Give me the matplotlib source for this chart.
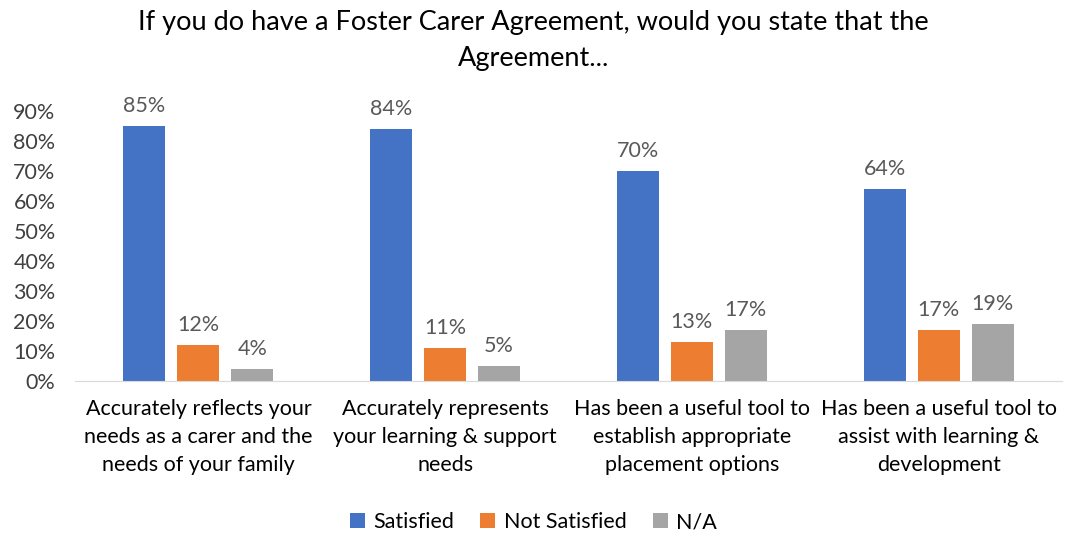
import matplotlib
matplotlib.use('Agg')
import matplotlib.pyplot as plt
import numpy as np

plt.rcParams['font.family'] = ['Lato', 'DejaVu Sans']

# chart data
categories = ['Accurately reflects your\nneeds as a carer and the\nneeds of your family',
              'Accurately represents\nyour learning & support\nneeds',
              'Has been a useful tool to\nestablish appropriate\nplacement options',
              'Has been a useful tool to\nassist with learning &\ndevelopment']
satisfied = [0.85, 0.84, 0.70, 0.64]
not_satisfied = [0.12, 0.11, 0.13, 0.17]
na = [0.04, 0.05, 0.17, 0.19]
series_names = ['Satisfied', 'Not Satisfied', 'N/A']
colors = ['#4472C4', '#ED7D31', '#A5A5A5']
yticks = [0, 0.1, 0.2, 0.3, 0.4, 0.5, 0.6, 0.7, 0.8, 0.9]

text_col = '#404040'

fig = plt.figure(figsize=(10.67, 5.33), dpi=100)
ax = fig.add_axes([0.0703, 0.285, 0.925, 0.507])

x = np.arange(len(categories))
width = 0.17
offsets = [-0.219, 0, 0.219]
for vals, off, col, name in zip([satisfied, not_satisfied, na], offsets, colors, series_names):
    bars = ax.bar(x + off, vals, width=width, color=col, label=name)
    for rect, v in zip(bars, vals):
        ax.annotate(f'{round(v*100)}%', xy=(rect.get_x() + rect.get_width() / 2, v),
                    xytext=(0, 7), textcoords='offset points',
                    ha='center', va='bottom', fontsize=15.5, color='#595959')

ax.set_xlim(-0.5, 3.5)
ax.set_ylim(0, 0.9)
ax.set_yticks(yticks)
ax.set_yticklabels([f'{round(t*100)}%' for t in yticks], fontsize=15.5, color=text_col)
ax.set_xticks(x)
ax.set_xticklabels(categories, fontsize=15.5, color='#000000', linespacing=1.5)
ax.tick_params(length=0, pad=13)
ax.tick_params(axis='y', pad=14)
for s in ['top', 'right', 'left']:
    ax.spines[s].set_visible(False)
ax.spines['bottom'].set_color('#D9D9D9')

fig.suptitle('If you do have a Foster Carer Agreement, would you state that the\nAgreement...',
             y=0.982, fontsize=19.5, color='#000000', linespacing=1.55)

fig.legend(loc='lower center', ncol=3, frameon=False, fontsize=15.5,
           bbox_to_anchor=(0.5, -0.035), handlelength=0.7, handleheight=0.7,
           columnspacing=1.2, handletextpad=0.4)

fig.savefig('out.png', dpi=100)
